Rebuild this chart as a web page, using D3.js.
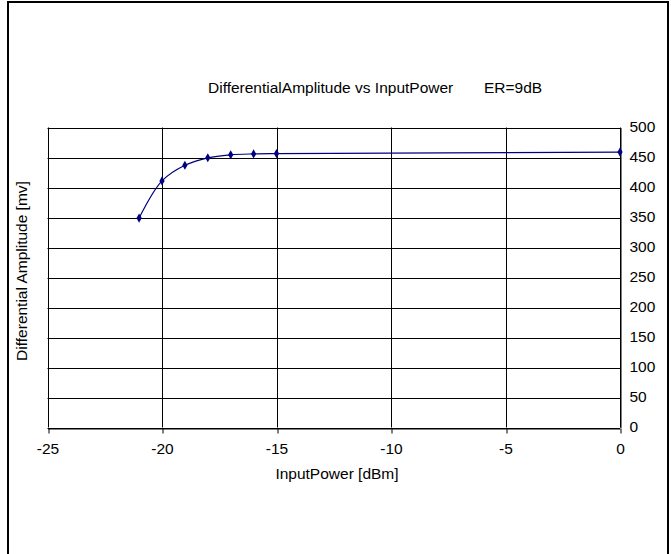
<!DOCTYPE html>
<html>
<head>
<meta charset="utf-8">
<script src="https://cdn.jsdelivr.net/npm/d3@7"></script>
<style>
  body { margin: 0; background: #fff; }
  text { font-family: "Liberation Sans", Arial, sans-serif; }
</style>
</head>
<body>
<svg class="main"></svg>
<script>
// data
let inputPower = [-21, -20, -19, -18, -17, -16, -15, 0];
let amplitude = [349, 411, 437, 449.5, 454.5, 456, 456.5, 459];
let xTicks = [-25, -20, -15, -10, -5, 0];
let yTicks = [0, 50, 100, 150, 200, 250, 300, 350, 400, 450, 500];

let w = 671, h = 554;
let padL = 47.5, padR = 620, padT = 127.5, padB = 427.5;
let fs = 15.5;

let svg = d3.select('.main')
  .attr('width', w)
  .attr('height', h);

// outer frame
svg.append('rect')
  .attr('x', 8).attr('y', 2)
  .attr('width', 660).attr('height', 560)
  .attr('fill', 'none')
  .attr('stroke', '#000')
  .attr('stroke-width', 2);

let x = d3.scaleLinear().domain([-25, 0]).range([padL, padR]);
let y = d3.scaleLinear().domain([0, 500]).range([padB, padT]);

// horizontal grid
svg.append('g').selectAll('line')
  .data(yTicks)
  .enter().append('line')
  .attr('x1', padL).attr('x2', padR)
  .attr('y1', d => Math.round(y(d)) + 0.5)
  .attr('y2', d => Math.round(y(d)) + 0.5)
  .attr('stroke', '#000');

// vertical grid
svg.append('g').selectAll('line')
  .data(xTicks)
  .enter().append('line')
  .attr('x1', d => Math.round(x(d)) + 0.5)
  .attr('x2', d => Math.round(x(d)) + 0.5)
  .attr('y1', padT).attr('y2', padB)
  .attr('stroke', '#000');

// x axis
let xAxis = svg.append('g')
  .attr('transform', `translate(0,${Math.round(padB) + 0.5})`)
  .call(d3.axisBottom(x).tickValues(xTicks).tickFormat(d => String(d))
    .tickSize(5).tickSizeOuter(0).tickPadding(9));
xAxis.select('.domain').attr('stroke', '#000');
xAxis.selectAll('.tick line').attr('transform', d => `translate(${Math.round(x(d)) + 0.5 - x(d)},0)`);
xAxis.selectAll('text').attr('font-size', fs).attr('font-family', '"Liberation Sans", Arial, sans-serif').attr('fill', '#000');

// y axis on the right
let yAxis = svg.append('g')
  .attr('transform', `translate(${Math.round(padR) + 0.5},0)`)
  .call(d3.axisRight(y).tickValues(yTicks).tickFormat(d => String(d))
    .tickSize(0).tickSizeOuter(0).tickPadding(9));
yAxis.select('.domain').attr('stroke', '#000');
yAxis.selectAll('text').attr('font-size', fs).attr('font-family', '"Liberation Sans", Arial, sans-serif').attr('fill', '#000')
  .attr('dy', '0.25em');

// the curve
let pts = inputPower.map((p, i) => [p, amplitude[i]]);
let line = d3.line()
  .x(d => x(d[0]))
  .y(d => y(d[1]))
  .curve(d3.curveCatmullRom.alpha(0.5));

svg.append('path')
  .datum(pts)
  .attr('d', line)
  .attr('fill', 'none')
  .attr('stroke', '#000080')
  .attr('stroke-width', 1.2);

svg.append('g').selectAll('path')
  .data(pts)
  .enter().append('path')
  .attr('d', d3.symbol().type(d3.symbolDiamond).size(24))
  .attr('transform', d => `translate(${x(d[0])},${y(d[1])})`)
  .attr('fill', '#000080');

// titles
svg.append('text')
  .attr('x', 208).attr('y', 93)
  .attr('font-size', fs)
  .attr('fill', '#000')
  .text('DifferentialAmplitude vs InputPower');

svg.append('text')
  .attr('x', 484).attr('y', 93)
  .attr('font-size', fs)
  .attr('fill', '#000')
  .text('ER=9dB');

svg.append('text')
  .attr('x', 337).attr('y', 479)
  .attr('text-anchor', 'middle')
  .attr('font-size', fs)
  .attr('fill', '#000')
  .text('InputPower [dBm]');

svg.append('text')
  .attr('transform', 'translate(27,271) rotate(-90)')
  .attr('text-anchor', 'middle')
  .attr('font-size', fs)
  .attr('fill', '#000')
  .text('Differential Amplitude [mv]');
</script>
</body>
</html>
